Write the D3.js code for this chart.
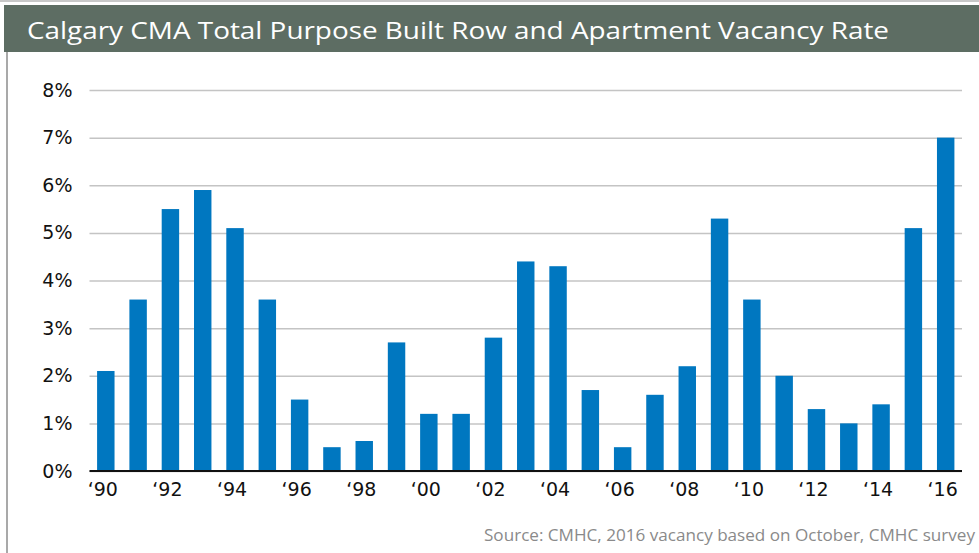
<!DOCTYPE html>
<html>
<head>
<meta charset="utf-8">
<script src="https://cdn.jsdelivr.net/npm/d3@7"></script>
<style>
  body { margin: 0; background: #fff; }
  svg { display: block; font-family: "DejaVu Sans", "Noto Sans", sans-serif; }
</style>
</head>
<body>
<svg width="979" height="553"></svg>
<script>
// years 1990..2016
const years = d3.range(1990, 2017);
const vacancy = [2.1, 3.6, 5.5, 5.9, 5.1, 3.6, 1.5, 0.5, 0.63, 2.7, 1.2, 1.2, 2.8, 4.4, 4.3, 1.7, 0.5, 1.6, 2.2, 5.3, 3.6, 2.0, 1.3, 1.0, 1.4, 5.1, 7.0];
const yTicks = [0, 1, 2, 3, 4, 5, 6, 7, 8];
const xTickYears = years.filter(y => y % 2 === 0);

const title = 'Calgary CMA Total Purpose Built Row and Apartment Vacancy Rate';
const source = 'Source: CMHC, 2016 vacancy based on October, CMHC survey';

const svg = d3.select('svg');
const width = 979, height = 553;
const margin = { top: 90, right: 17, bottom: 82, left: 89.5 };

// frame + title bar
svg.append('line').attr('x1', 0).attr('x2', width).attr('y1', 1).attr('y2', 1)
  .attr('stroke', '#c8c8c8').attr('stroke-width', 2);
svg.append('rect').attr('x', 4).attr('y', 5).attr('width', width - 4).attr('height', 47)
  .attr('fill', '#5d6d63');
svg.append('line').attr('x1', 7).attr('x2', 7).attr('y1', 52).attr('y2', height)
  .attr('stroke', '#a9a9a9').attr('stroke-width', 2);
svg.append('text').attr('x', 27).attr('y', 39)
  .attr('fill', '#fff').attr('font-size', 23).attr('font-family', '"Open Sans", sans-serif')
  .attr('textLength', 862).attr('lengthAdjust', 'spacingAndGlyphs')
  .text(title);

const x = d3.scaleBand()
  .domain(years)
  .range([margin.left, width - margin.right])
  .paddingInner(0.46)
  .paddingOuter(0.235);

const y = d3.scaleLinear()
  .domain([0, 8])
  .range([height - margin.bottom, margin.top]);

// grid
const yAxis = svg.append('g')
  .attr('transform', `translate(${margin.left},0)`)
  .call(d3.axisLeft(y).tickValues(yTicks).tickFormat(d => d + '%')
    .tickSize(-(width - margin.right - margin.left)).tickPadding(17));
yAxis.select('.domain').remove();
yAxis.selectAll('.tick line').attr('stroke', '#c4c4c4').attr('stroke-width', 1.5);
yAxis.selectAll('.tick text').attr('font-size', 19).attr('fill', '#111')
  .attr('font-family', '"DejaVu Sans", sans-serif');

// bars
svg.append('g').selectAll('rect')
  .data(vacancy)
  .join('rect')
  .attr('x', (d, i) => x(years[i]))
  .attr('y', d => y(d))
  .attr('width', x.bandwidth())
  .attr('height', d => y(0) - y(d))
  .attr('fill', '#0077c0');

// baseline + x labels
const xAxis = svg.append('g')
  .attr('transform', `translate(0,${y(0)})`)
  .call(d3.axisBottom(x).tickValues(xTickYears)
    .tickFormat(d => '\u2018' + String(d).slice(2)).tickSize(0).tickPadding(12));
xAxis.select('.domain').remove();
xAxis.selectAll('.tick text').attr('font-size', 19).attr('fill', '#111')
  .attr('font-family', '"DejaVu Sans", sans-serif').attr('dx', -3);
svg.append('line')
  .attr('x1', margin.left).attr('x2', width - margin.right)
  .attr('y1', y(0)).attr('y2', y(0))
  .attr('stroke', '#111').attr('stroke-width', 2);

// source
svg.append('text').attr('x', 975).attr('y', 541).attr('text-anchor', 'end')
  .attr('font-size', 16).attr('fill', '#8a8a8a').attr('font-family', '"Open Sans", sans-serif')
  .attr('textLength', 491).attr('lengthAdjust', 'spacingAndGlyphs')
  .text(source);
</script>
</body>
</html>
